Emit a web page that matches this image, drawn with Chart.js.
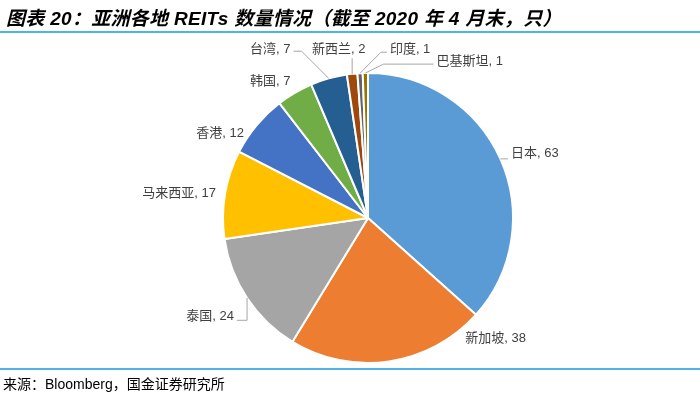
<!DOCTYPE html>
<html>
<head>
<meta charset="utf-8">
<script src="https://cdn.jsdelivr.net/npm/chart.js@4.4.1/dist/chart.umd.min.js"></script>
<style>
  html, body { margin: 0; padding: 0; background: #ffffff; }
  #wrap { position: relative; width: 700px; height: 394px; overflow: hidden; }
  #title { position: absolute; left: 6px; top: 3px; font-family: "Liberation Sans", Arial, "Noto Sans CJK SC", sans-serif; font-size: 19px; font-weight: bold; font-style: italic; color: #000; white-space: nowrap; letter-spacing: 0.3px; }
  #topline { position: absolute; left: 0; top: 31px; width: 700px; height: 2px; background: #4EB3E6; }
  #botline { position: absolute; left: 0; top: 368px; width: 700px; height: 2px; background: #4EB3E6; }
  #source { position: absolute; left: 3px; top: 373px; font-family: "Liberation Sans", Arial, "Noto Sans CJK SC", sans-serif; font-size: 14px; color: #000; white-space: nowrap; }
  canvas { position: absolute; left: 0; top: 0; }
</style>
</head>
<body>
<div id="wrap">
  <canvas id="c" width="700" height="394"></canvas>
  <div id="title">图表 20：亚洲各地 REITs 数量情况（截至 2020 年 4 月末，只）</div>
  <div id="topline"></div>
  <div id="botline"></div>
  <div id="source">来源：Bloomberg，国金证券研究所</div>
</div>
<script>
// ---- data ----
const categories = ["日本", "新加坡", "泰国", "马来西亚", "香港", "韩国", "台湾", "新西兰", "印度", "巴基斯坦"];
const reitCounts = [63, 38, 24, 17, 12, 7, 7, 2, 1, 1];

// ---- styles ----
const sliceColors = ["#5B9BD5", "#ED7D31", "#A5A5A5", "#FFC000", "#4472C4", "#70AD47", "#255E91", "#9E480E", "#636363", "#997300"];

// label placement relative to pie center, in units of the radius (style only)
const labelPlacement = [
  { fx: 0.986, fy: -0.445, align: "left",   leader: { kind: "direct" } },
  { fx: 0.880, fy: 0.829,  align: "center", leader: null },
  { fx: -0.925, fy: 0.678, align: "right",  leader: { kind: "elbowV" } },
  { fx: -1.048, fy: -0.171, align: "right", leader: null },
  { fx: -0.856, fy: -0.582, align: "right", leader: null },
  { fx: -0.534, fy: -0.945, align: "right", leader: null },
  { fx: -0.534, fy: -1.164, align: "right", leader: { kind: "elbowH", len: 8 } },
  { fx: -0.202, fy: -1.164, align: "center", leader: { kind: "vertical" } },
  { fx: 0.151, fy: -1.164,  align: "left",  leader: { kind: "elbowH", len: 6 } },
  { fx: 0.473, fy: -1.082,  align: "left",  leader: { kind: "elbowH", len: 50 } }
];

const labelFont = '13px "Liberation Sans", Arial, "Noto Sans CJK SC", sans-serif';

const pieLabels = {
  id: "pieLabels",
  afterDatasetsDraw(chart) {
    const ctx = chart.ctx;
    const meta = chart.getDatasetMeta(0);
    ctx.save();
    ctx.font = labelFont;
    ctx.textBaseline = "middle";
    meta.data.forEach((arc, i) => {
      const p = arc.getProps(["x", "y", "startAngle", "endAngle", "outerRadius"], true);
      const r = p.outerRadius;
      const mid = (p.startAngle + p.endAngle) / 2;
      const ax = p.x + Math.cos(mid) * r;
      const ay = p.y + Math.sin(mid) * r;
      const pl = labelPlacement[i];
      const tx = p.x + pl.fx * r;
      const ty = p.y + pl.fy * r;
      const text = categories[i] + ", " + reitCounts[i];
      const w = ctx.measureText(text).width;
      let left;
      if (pl.align === "left") left = tx;
      else if (pl.align === "right") left = tx - w;
      else left = tx - w / 2;
      const right = left + w;
      ctx.fillStyle = "#404040";
      ctx.textAlign = "left";
      ctx.fillText(text, left, ty);
      if (pl.leader) {
        ctx.strokeStyle = "#A6A6A6";
        ctx.lineWidth = 1;
        ctx.beginPath();
        const k = pl.leader.kind;
        if (k === "direct") {
          ctx.moveTo(left - 3, ay);
          ctx.lineTo(ax, ay);
        } else if (k === "elbowV") {
          ctx.moveTo(right + 3, ty + 4);
          ctx.lineTo(ax, ty + 4);
          ctx.lineTo(ax, ay);
        } else if (k === "elbowH") {
          if (pl.align === "right") {
            ctx.moveTo(right + 3, ty + 2);
            ctx.lineTo(right + 3 + pl.leader.len, ty + 2);
          } else {
            ctx.moveTo(left - 3, ty + 3);
            ctx.lineTo(left - 3 - pl.leader.len, ty + 3);
          }
          ctx.lineTo(ax, ay);
        } else if (k === "vertical") {
          ctx.moveTo(ax, ty + 9);
          ctx.lineTo(ax, ay);
        }
        ctx.stroke();
      }
    });
    ctx.restore();
  }
};

new Chart(document.getElementById("c"), {
  type: "pie",
  data: {
    labels: categories,
    datasets: [{
      data: reitCounts,
      backgroundColor: sliceColors,
      borderColor: "#ffffff",
      borderWidth: 2
    }]
  },
  options: {
    responsive: false,
    animation: false,
    layout: { padding: { left: 222, right: 186, top: 72, bottom: 30 } },
    plugins: {
      legend: { display: false },
      tooltip: { enabled: false },
      title: { display: false }
    }
  },
  plugins: [pieLabels]
});
</script>
</body>
</html>
